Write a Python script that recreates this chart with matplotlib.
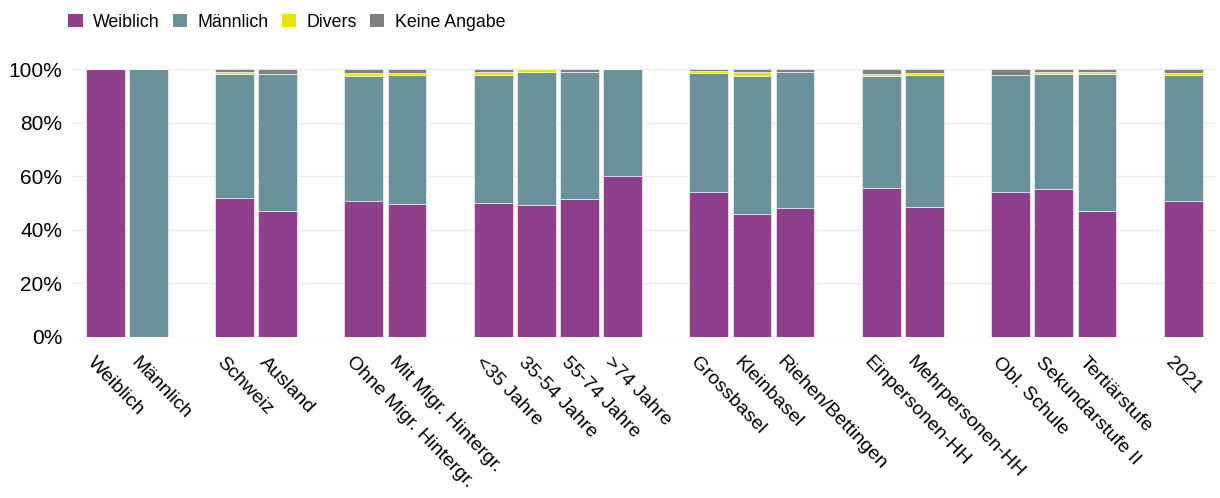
import numpy as np
import matplotlib
matplotlib.use('Agg')
import matplotlib.pyplot as plt
from matplotlib.patches import Patch

plt.rcParams['font.family'] = ['Liberation Sans', 'DejaVu Sans']

# Kategorien (None = Lücke zwischen Gruppen)
kategorien = ['Weiblich', 'Männlich', None,
              'Schweiz', 'Ausland', None,
              'Ohne Migr. Hintergr.', 'Mit Migr. Hintergr.', None,
              '<35 Jahre', '35-54 Jahre', '55-74 Jahre', '>74 Jahre', None,
              'Grossbasel', 'Kleinbasel', 'Riehen/Bettingen', None,
              'Einpersonen-HH', 'Mehrpersonen-HH', None,
              'Obl. Schule', 'Sekundarstufe II', 'Tertiärstufe', None,
              '2021']

weiblich = [100, 0, 52.0, 47.0, 50.7, 49.8, 50.0, 49.3, 51.5, 60.0,
            54.1, 45.8, 48.3, 55.7, 48.5, 54.1, 55.2, 47.0, 50.7]
maennlich = [0, 100, 46.0, 51.0, 46.8, 48.1, 47.9, 49.5, 47.4, 40.0,
             44.5, 51.7, 50.7, 41.8, 49.3, 43.8, 42.9, 51.0, 47.2]
divers = [0, 0, 1.0, 0.1, 1.2, 0.8, 0.9, 1.1, 0.1, 0.0,
          0.5, 1.5, 0.0, 0.7, 0.7, 0.0, 0.8, 1.0, 0.7]
keine_angabe = [0, 0, 1.0, 1.9, 1.3, 1.3, 1.2, 0.1, 1.0, 0.0,
                0.9, 1.0, 1.0, 1.8, 1.5, 2.1, 1.1, 1.0, 1.4]

farben = {'Weiblich': '#8f3f8c', 'Männlich': '#6a9199',
          'Divers': '#e6e600', 'Keine Angabe': '#808080'}

pos = np.array([i for i, k in enumerate(kategorien) if k is not None])
labels = [k for k in kategorien if k is not None]

fig = plt.figure(figsize=(12.2, 4.98), dpi=100)
ax = fig.add_axes([0.06, 0.3233, 0.936, 0.5381])

unten = np.zeros(len(pos))
for name, werte in [('Weiblich', weiblich), ('Männlich', maennlich),
                    ('Divers', divers), ('Keine Angabe', keine_angabe)]:
    werte = np.array(werte)
    ax.bar(pos, werte, bottom=unten, width=0.9, color=farben[name],
           edgecolor='#ffffff', linewidth=0.4, zorder=2)
    unten += werte

ax.set_xlim(-0.74, 25.74)
ax.set_ylim(0, 100)
ax.set_yticks([0, 20, 40, 60, 80, 100])
ax.set_yticklabels([f'{v}%' for v in [0, 20, 40, 60, 80, 100]], fontsize=15)
ax.yaxis.grid(True, color='#ececec', linewidth=1, zorder=0)
ax.set_axisbelow(True)
for s in ax.spines.values():
    s.set_visible(False)
ax.tick_params(axis='both', length=0)
ax.tick_params(axis='y', pad=8)

ax.set_xticks(pos)
ax.set_xticklabels(labels, rotation=-46, ha='left', va='top',
                   rotation_mode='anchor', fontsize=14)
ax.tick_params(axis='x', pad=12)
for t in ax.get_xticklabels():
    t.set_transform(t.get_transform() + matplotlib.transforms.ScaledTranslation(-0.09, 0, fig.dpi_scale_trans))

handles = [Patch(facecolor=c, edgecolor='none', label=n) for n, c in farben.items()]
fig.legend(handles=handles, loc='upper left', bbox_to_anchor=(0.043, 1.005),
           ncol=4, frameon=False, fontsize=12.8, handlelength=0.8,
           handleheight=0.8, handletextpad=0.6, columnspacing=0.72)

plt.savefig('out.png', dpi=100)
